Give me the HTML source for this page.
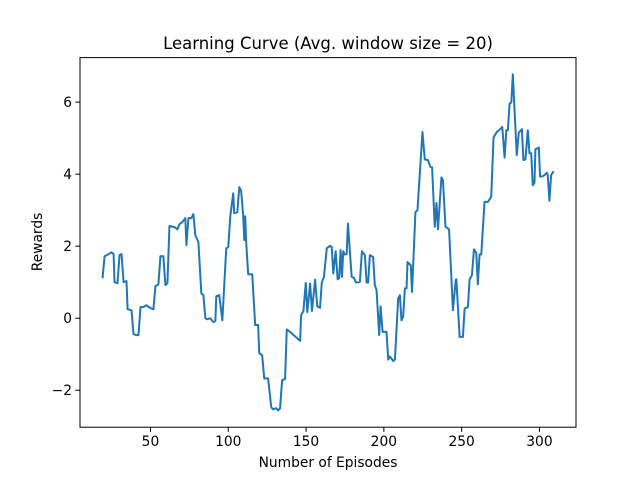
<!DOCTYPE html>
<html><head><meta charset="utf-8"><style>
body{margin:0;background:#fff}
svg{display:block;font-family:"DejaVu Sans","Liberation Sans",sans-serif}
</style></head><body>
<svg id="chart" width="640" height="480">
<rect width="640" height="480" fill="#fff"/>
<text x="328" y="49" font-size="16.5" text-anchor="middle">Learning Curve (Avg. window size = 20)</text>
<text x="328" y="467" font-size="13.8" text-anchor="middle">Number of Episodes</text>
<text x="0" y="0" font-size="13.8" text-anchor="middle" transform="translate(42,242) rotate(-90)">Rewards</text>
<g id="ticks"></g>
<path id="line" fill="none" stroke="#1f77b4" stroke-width="2" stroke-linejoin="round"/>
<rect x="80" y="57.6" width="496" height="369.6" fill="none" stroke="#000" stroke-width="1"/>
</svg>
<script>
const episodes=[19.2,20.5,23.1,25.0,26.3,26.9,28.8,30.1,31.4,32.7,34.6,35.3,37.8,39.1,41.0,42.3,43.6,45.5,47.4,50.0,51.9,53.2,55.1,56.4,58.3,59.6,60.9,62.2,65.4,67.3,68.6,70.5,72.4,73.1,74.4,76.3,77.6,78.8,80.8,82.7,84.0,85.3,86.5,88.5,90.4,91.7,92.3,94.2,96.2,98.7,100.0,101.3,103.2,103.8,105.8,107.1,108.3,109.6,110.3,110.9,111.5,112.8,115.4,117.3,119.2,119.9,121.8,123.1,125.6,127.6,128.8,130.8,132.1,133.3,134.6,136.5,137.6,139.7,144.9,146.2,146.8,148.3,149.8,150.8,152.6,153.8,155.8,157.2,159.0,160.1,161.5,163.3,165.4,166.5,167.5,169.0,170.3,171.3,172.2,173.1,173.9,174.8,176.1,176.9,178.2,179.3,180.8,182.1,184.6,185.9,187.8,188.9,189.9,191.0,193.1,194.2,195.3,197.0,197.9,199.2,201.7,202.8,203.8,206.0,207.1,209.2,210.3,211.3,212.4,213.5,214.6,215.2,217.3,218.1,220.3,221.6,224.8,226.3,228.4,229.9,231.0,232.7,233.8,234.8,237.0,238.0,239.6,241.9,244.4,246.2,246.6,248.7,250.8,251.9,254.0,255.1,256.6,257.9,259.4,260.4,261.5,262.6,264.7,266.9,269.0,270.5,272.6,274.8,276.1,277.6,278.7,279.7,280.8,281.9,282.9,285.4,286.7,288.7,289.7,291.0,292.5,293.6,294.7,295.7,296.8,297.4,299.6,300.4,302.1,303.7,304.7,305.3,306.4,307.5,309.0];
const rewards=[1.11,1.72,1.78,1.83,1.78,1.00,0.97,1.75,1.78,1.00,1.03,0.25,0.22,-0.44,-0.47,-0.47,0.31,0.31,0.36,0.28,0.25,0.89,0.94,1.72,1.72,0.92,0.97,2.56,2.53,2.47,2.61,2.67,2.78,2.03,2.78,2.78,2.89,2.31,2.11,0.69,0.64,0.00,-0.03,0.00,-0.11,-0.08,0.61,0.64,-0.06,1.94,1.97,2.83,3.47,2.92,2.94,3.64,3.53,2.83,2.17,2.83,2.11,1.22,1.22,-0.19,-0.19,-0.97,-1.03,-1.67,-1.67,-2.47,-2.53,-2.50,-2.56,-2.50,-1.72,-1.69,-0.31,-0.38,-0.58,-0.63,0.08,0.20,0.98,0.17,0.96,0.20,1.07,0.33,0.29,0.99,1.15,1.94,2.01,1.98,1.24,1.86,1.08,1.11,1.89,1.15,1.86,1.77,1.78,2.63,1.84,1.15,1.12,0.99,1.01,1.86,1.75,0.99,0.99,1.75,1.70,0.92,0.78,-0.47,0.33,-0.38,-0.38,-1.15,-1.06,-1.19,-1.15,0.55,0.64,-0.06,0.04,0.83,0.83,1.56,1.47,0.73,2.95,3.00,5.17,4.41,4.39,4.20,4.19,2.54,3.20,2.47,3.91,3.83,2.54,2.47,0.22,1.06,1.08,-0.52,-0.52,0.27,0.31,1.08,1.19,1.91,1.81,0.94,1.77,1.77,3.23,3.23,3.37,5.02,5.17,5.25,5.31,4.46,5.22,5.22,5.96,5.99,6.77,4.53,5.15,5.25,4.39,4.41,5.22,4.58,4.58,3.69,3.76,4.69,4.74,3.93,3.94,3.99,4.04,3.99,3.26,3.97,4.08];
const xTicks=[50,100,150,200,250,300];
const yTicks=[-2,0,2,4,6];

const L=80,R=576,T=57.6,B=427.2;
const xmin0=Math.min(...episodes),xmax0=Math.max(...episodes);
const ymin0=Math.min(...rewards),ymax0=Math.max(...rewards);
const xm=(xmax0-xmin0)*0.05,ym=(ymax0-ymin0)*0.05;
const xmin=xmin0-xm,xmax=xmax0+xm,ymin=ymin0-ym,ymax=ymax0+ym;
const xs=v=>L+(v-xmin)/(xmax-xmin)*(R-L);
const ys=v=>B-(v-ymin)/(ymax-ymin)*(B-T);

let d='';
episodes.forEach((e,i)=>{d+=(i?'L':'M')+xs(e).toFixed(2)+','+ys(rewards[i]).toFixed(2);});
document.getElementById('line').setAttribute('d',d);

const NS='http://www.w3.org/2000/svg';
const g=document.getElementById('ticks');
xTicks.forEach(t=>{
  const x=xs(t);
  const ln=document.createElementNS(NS,'line');
  ln.setAttribute('x1',x);ln.setAttribute('x2',x);ln.setAttribute('y1',B);ln.setAttribute('y2',B+4.7);
  ln.setAttribute('stroke','#000');
  
  
  g.appendChild(ln);
  const tx=document.createElementNS(NS,'text');
  tx.setAttribute('x',x);tx.setAttribute('y',B+19);tx.setAttribute('font-size','13.8');tx.setAttribute('text-anchor','middle');
  tx.textContent=String(t);
  
  
  g.appendChild(tx);
});
yTicks.forEach(t=>{
  const y=ys(t);
  const ln=document.createElementNS(NS,'line');
  ln.setAttribute('x1',L-4.7);ln.setAttribute('x2',L);ln.setAttribute('y1',y);ln.setAttribute('y2',y);
  ln.setAttribute('stroke','#000');
  
  
  g.appendChild(ln);
  const tx=document.createElementNS(NS,'text');
  tx.setAttribute('x',L-8);tx.setAttribute('y',y+4.8);tx.setAttribute('font-size','13.8');tx.setAttribute('text-anchor','end');
  tx.textContent=(t<0?'\u2212':'')+Math.abs(t);
  
  
  g.appendChild(tx);
});
</script>
</body></html>
